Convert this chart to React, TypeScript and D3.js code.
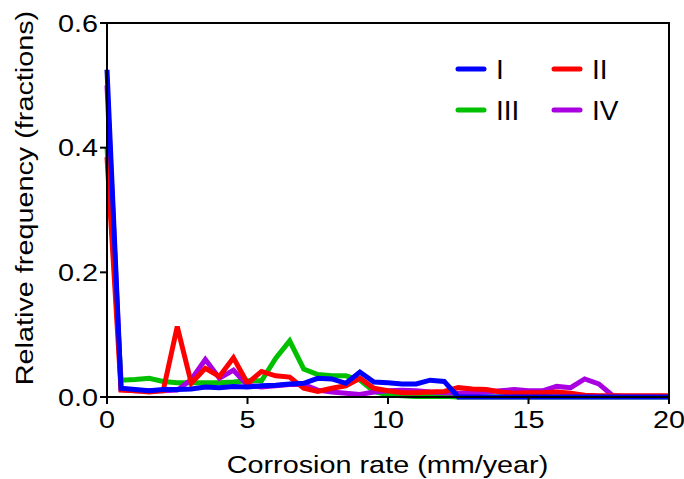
import React from 'react';
import * as d3 from 'd3';

// corrosion rate bins (mm/year)
const rates = [0, 0.5, 1, 1.5, 2, 2.5, 3, 3.5, 4, 4.5, 5, 5.5, 6, 6.5, 7, 7.5, 8, 8.5, 9, 9.5, 10,
  10.5, 11, 11.5, 12, 12.5, 13, 13.5, 14, 14.5, 15, 15.5, 16, 16.5, 17, 17.5, 18, 18.5, 19, 19.5, 20];

const seriesI = [0.525, 0.014, 0.012, 0.010, 0.012, 0.012, 0.013, 0.016, 0.015, 0.017, 0.016, 0.018, 0.019, 0.021,
  0.022, 0.030, 0.029, 0.022, 0.040, 0.024, 0.023, 0.021, 0.021, 0.027, 0.025, 0, 0, 0, 0, 0, 0, 0, 0, 0, 0, 0, 0, 0, 0, 0, 0];
const seriesII = [0.385, 0.011, 0.010, 0.008, 0.010, 0.113, 0.022, 0.046, 0.033, 0.063, 0.022, 0.041, 0.034, 0.032,
  0.014, 0.009, 0.014, 0.018, 0.030, 0.014, 0.010, 0.007, 0.007, 0.008, 0.009, 0.015, 0.013, 0.012, 0.008, 0.006,
  0.007, 0.007, 0.008, 0.006, 0.003, 0.002, 0.002, 0.002, 0.002, 0.002, 0.002];
const seriesIII = [0.400, 0.027, 0.028, 0.030, 0.025, 0.023, 0.023, 0.023, 0.023, 0.024, 0.026, 0.026, 0.062, 0.090,
  0.045, 0.036, 0.034, 0.034, 0.027, 0.009, 0.003, 0.002, 0.001, 0.001, 0.001, 0, 0, 0, 0, 0, 0, 0, 0, 0, 0, 0, 0, 0, 0, 0, 0];
const seriesIV = [0.500, 0.012, 0.010, 0.010, 0.010, 0.011, 0.028, 0.060, 0.030, 0.043, 0.019, 0.016, 0.018, 0.020,
  0.020, 0.011, 0.008, 0.006, 0.004, 0.008, 0.010, 0.011, 0.010, 0.008, 0.007, 0.006, 0.007, 0.008, 0.010, 0.012,
  0.010, 0.010, 0.017, 0.015, 0.029, 0.021, 0.002, 0.001, 0.001, 0.001, 0.001];

const xTicks = [0, 5, 10, 15, 20];
const yTicks = [0, 0.2, 0.4, 0.6];

// draw order: bottom first
const series = [
  { name: 'III', values: seriesIII, color: '#00c000' },
  { name: 'IV', values: seriesIV, color: '#a800e0' },
  { name: 'II', values: seriesII, color: '#ff0000' },
  { name: 'I', values: seriesI, color: '#0000ff' },
];

const legendItems = [
  { name: 'I', color: '#0000ff', col: 0, row: 0 },
  { name: 'II', color: '#ff0000', col: 1, row: 0 },
  { name: 'III', color: '#00c000', col: 0, row: 1 },
  { name: 'IV', color: '#a800e0', col: 1, row: 1 },
];

const W = 684;
const H = 479;
const left = 107, right = 669, top = 23, bottom = 397;
const font = '"Liberation Sans", Arial, sans-serif';
const sx = 1.2; // text in the original is a bit wider than Arial

export default function App() {
  const x = d3.scaleLinear().domain([0, 20]).range([left, right]);
  const y = d3.scaleLinear().domain([0, 0.6]).range([bottom, top]);
  const line = d3.line<number>()
    .x((_, i) => x(rates[i]))
    .y(d => y(d));

  return (
    <svg width={W} height={H} style={{ position: 'absolute', left: 0, top: 0, background: '#fff' }}
      fontFamily={font}>
      {series.map(s => (
        <path key={s.name} d={line(s.values) || ''} fill="none" stroke={s.color}
          strokeWidth={5} strokeLinejoin="miter" />
      ))}

      {/* frame */}
      <path d={`M${left},${bottom}V${top}H${right}V${bottom}H${left}`} fill="none" stroke="#000" strokeWidth={2} />

      {/* y ticks */}
      {yTicks.map(t => (
        <g key={'y' + t}>
          <line x1={left - 7} x2={left} y1={y(t)} y2={y(t)} stroke="#000" strokeWidth={2} />
          <text transform={`translate(${left - 9},${y(t)}) scale(${sx},1)`} dy="0.36em" textAnchor="end"
            fontSize={24}>{t.toFixed(1)}</text>
        </g>
      ))}

      {/* x ticks */}
      {xTicks.map(t => (
        <g key={'x' + t}>
          <line x1={x(t)} x2={x(t)} y1={bottom} y2={bottom + 7} stroke="#000" strokeWidth={2} />
          <text transform={`translate(${x(t)},${bottom + 31}) scale(${sx},1)`} textAnchor="middle"
            fontSize={24}>{t}</text>
        </g>
      ))}

      <text transform={`translate(${(left + right) / 2 - 0.5},473) scale(${sx},1)`} textAnchor="middle"
        fontSize={24}>Corrosion rate (mm/year)</text>
      <text transform={`translate(33,198) rotate(-90) scale(${sx},1)`} textAnchor="middle"
        fontSize={24}>Relative frequency (fractions)</text>

      {/* legend */}
      {legendItems.map(l => {
        const lx = 458 + l.col * 96;
        const ly = 69 + l.row * 41;
        return (
          <g key={'lg' + l.name}>
            <line x1={lx} x2={lx + 26} y1={ly} y2={ly} stroke={l.color} strokeWidth={5} strokeLinecap="round" />
            <text x={lx + 38} y={ly} dy="0.36em" fontSize={28}>{l.name}</text>
          </g>
        );
      })}
    </svg>
  );
}
